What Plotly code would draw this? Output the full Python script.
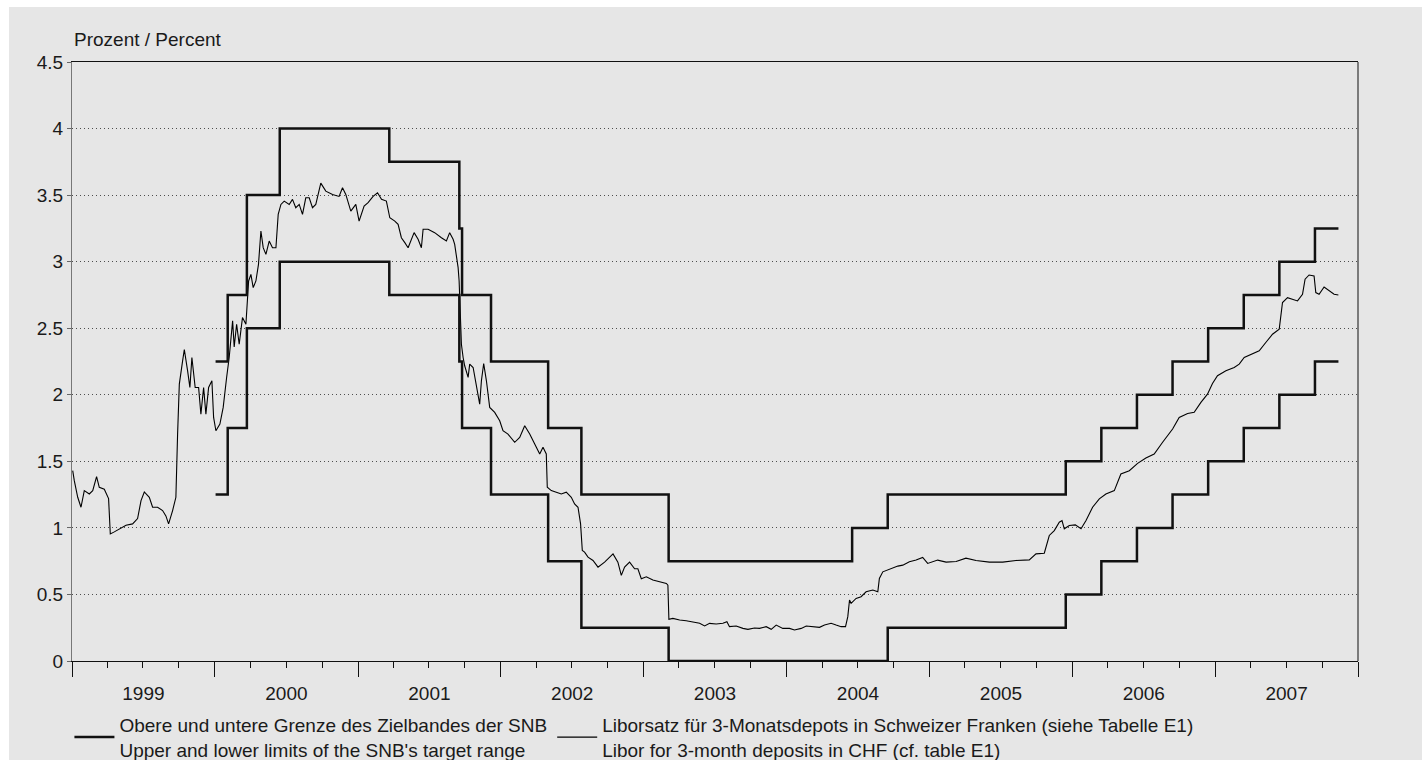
import pandas as pd
import plotly.graph_objects as go

# ---------------- data ----------------
# SNB target range (dates of changes, upper and lower limits, %)
band_dates = ['2000-01-03', '2000-02-03', '2000-03-23', '2000-06-15', '2001-03-22',
              '2001-09-17', '2001-09-24', '2001-12-07', '2002-05-02', '2002-07-26',
              '2003-03-06', '2004-06-17', '2004-09-16', '2005-12-15', '2006-03-16',
              '2006-06-15', '2006-09-14', '2006-12-14', '2007-03-15', '2007-06-14',
              '2007-09-13', '2007-11-12']
band_upper = [2.25, 2.75, 3.5, 4.0, 3.75, 3.25, 2.75, 2.25, 1.75, 1.25,
              0.75, 1.0, 1.25, 1.5, 1.75, 2.0, 2.25, 2.5, 2.75, 3.0, 3.25, 3.25]
band_lower = [1.25, 1.75, 2.5, 3.0, 2.75, 2.25, 1.75, 1.25, 0.75, 0.25,
              0.0, 0.0, 0.25, 0.5, 0.75, 1.0, 1.25, 1.5, 1.75, 2.0, 2.25, 2.25]

# 3-month CHF Libor (time in decimal years, value in %)
libor_time = [
    1999.005, 1999.016, 1999.040, 1999.063, 1999.086, 1999.121, 1999.145, 1999.172,
    1999.191, 1999.226, 1999.256, 1999.268, 1999.296, 1999.331, 1999.378, 1999.424,
    1999.459, 1999.483, 1999.506, 1999.541, 1999.564, 1999.599, 1999.634, 1999.657,
    1999.676, 1999.704, 1999.727, 1999.739, 1999.751, 1999.774, 1999.786, 1999.809,
    1999.825, 1999.839, 1999.862, 1999.886, 1999.902, 1999.921, 1999.937, 1999.956,
    1999.979, 1999.991, 2000.007, 2000.035, 2000.058, 2000.082, 2000.100, 2000.124,
    2000.135, 2000.152, 2000.170, 2000.193, 2000.217, 2000.236, 2000.252, 2000.268,
    2000.287, 2000.305, 2000.322, 2000.338, 2000.357, 2000.380, 2000.403, 2000.427,
    2000.443, 2000.462, 2000.485, 2000.520, 2000.543, 2000.566, 2000.590, 2000.613,
    2000.636, 2000.660, 2000.683, 2000.706, 2000.741, 2000.776, 2000.823, 2000.869,
    2000.893, 2000.916, 2000.951, 2000.986, 2001.009, 2001.044, 2001.072, 2001.107,
    2001.138, 2001.166, 2001.200, 2001.224, 2001.259, 2001.282, 2001.305, 2001.329,
    2001.352, 2001.394, 2001.422, 2001.445, 2001.457, 2001.492, 2001.538, 2001.585,
    2001.620, 2001.643, 2001.667, 2001.678, 2001.690, 2001.702, 2001.709, 2001.716,
    2001.720, 2001.725, 2001.737, 2001.748, 2001.772, 2001.783, 2001.807, 2001.830,
    2001.853, 2001.865, 2001.881, 2001.900, 2001.923, 2001.958, 2001.993, 2002.016,
    2002.051, 2002.098, 2002.133, 2002.168, 2002.203, 2002.238, 2002.273, 2002.296,
    2002.319, 2002.326, 2002.354, 2002.389, 2002.424, 2002.459, 2002.494, 2002.517,
    2002.541, 2002.559, 2002.571, 2002.587, 2002.611, 2002.646, 2002.681, 2002.727,
    2002.786, 2002.820, 2002.844, 2002.867, 2002.902, 2002.937, 2002.960, 2002.984,
    2003.007, 2003.019, 2003.065, 2003.112, 2003.159, 2003.170, 2003.177, 2003.205,
    2003.252, 2003.298, 2003.345, 2003.392, 2003.427, 2003.462, 2003.508, 2003.555,
    2003.583, 2003.601, 2003.648, 2003.695, 2003.730, 2003.776, 2003.811, 2003.858,
    2003.893, 2003.928, 2003.974, 2004.021, 2004.056, 2004.103, 2004.138, 2004.184,
    2004.231, 2004.266, 2004.312, 2004.347, 2004.382, 2004.413, 2004.429, 2004.441,
    2004.452, 2004.487, 2004.522, 2004.557, 2004.604, 2004.639, 2004.650, 2004.674,
    2004.709, 2004.744, 2004.779, 2004.814, 2004.860, 2004.907, 2004.953, 2004.988,
    2005.023, 2005.058, 2005.117, 2005.187, 2005.256, 2005.326, 2005.420, 2005.513,
    2005.606, 2005.699, 2005.746, 2005.804, 2005.839, 2005.874, 2005.909, 2005.928,
    2005.944, 2005.979, 2006.021, 2006.061, 2006.096, 2006.142, 2006.189, 2006.235,
    2006.294, 2006.340, 2006.399, 2006.457, 2006.515, 2006.573, 2006.632, 2006.702,
    2006.748, 2006.807, 2006.853, 2006.900, 2006.946, 2006.981, 2007.016, 2007.075,
    2007.133, 2007.168, 2007.203, 2007.261, 2007.308, 2007.354, 2007.401, 2007.448,
    2007.471, 2007.506, 2007.541, 2007.576, 2007.611, 2007.629, 2007.657, 2007.692,
    2007.704, 2007.727, 2007.762, 2007.797, 2007.832, 2007.862]
libor_value = [
    1.43, 1.355, 1.23, 1.155, 1.28, 1.255, 1.28, 1.385,
    1.305, 1.29, 1.22, 0.955, 0.97, 0.99, 1.02, 1.03,
    1.07, 1.205, 1.27, 1.23, 1.155, 1.155, 1.13, 1.09,
    1.03, 1.13, 1.23, 1.705, 2.08, 2.255, 2.34, 2.18,
    2.055, 2.28, 2.055, 2.055, 1.855, 2.055, 1.855, 2.055,
    2.105, 1.83, 1.73, 1.78, 1.905, 2.13, 2.28, 2.555,
    2.36, 2.53, 2.38, 2.58, 2.53, 2.855, 2.905, 2.805,
    2.855, 2.98, 3.23, 3.105, 3.055, 3.155, 3.105, 3.105,
    3.355, 3.43, 3.455, 3.43, 3.468, 3.405, 3.43, 3.355,
    3.48, 3.48, 3.405, 3.43, 3.59, 3.53, 3.505, 3.49,
    3.555, 3.505, 3.38, 3.43, 3.305, 3.418, 3.443, 3.49,
    3.518, 3.468, 3.455, 3.33, 3.305, 3.28, 3.18, 3.143,
    3.105, 3.218, 3.168, 3.105, 3.243, 3.243, 3.218, 3.18,
    3.155, 3.218, 3.168, 3.13, 3.055, 2.955, 2.855, 2.655,
    2.505, 2.38, 2.28, 2.218, 2.13, 2.23, 2.205, 2.055,
    1.93, 2.105, 2.235, 2.105, 1.905, 1.868, 1.805, 1.73,
    1.705, 1.643, 1.68, 1.768, 1.705, 1.63, 1.555, 1.605,
    1.555, 1.305, 1.28, 1.268, 1.255, 1.268, 1.23, 1.18,
    1.155, 1.03, 0.83, 0.818, 0.78, 0.755, 0.705, 0.743,
    0.805, 0.743, 0.643, 0.705, 0.743, 0.693, 0.693, 0.618,
    0.63, 0.633, 0.608, 0.595, 0.583, 0.57, 0.313, 0.32,
    0.308, 0.303, 0.295, 0.283, 0.263, 0.283, 0.278, 0.283,
    0.295, 0.258, 0.263, 0.245, 0.238, 0.248, 0.245, 0.258,
    0.238, 0.27, 0.245, 0.245, 0.233, 0.245, 0.263, 0.258,
    0.253, 0.27, 0.283, 0.27, 0.258, 0.258, 0.333, 0.458,
    0.433, 0.47, 0.483, 0.52, 0.533, 0.52, 0.62, 0.67,
    0.683, 0.695, 0.713, 0.72, 0.745, 0.758, 0.778, 0.733,
    0.745, 0.758, 0.743, 0.748, 0.773, 0.755, 0.743, 0.743,
    0.755, 0.76, 0.805, 0.81, 0.943, 0.98, 1.043, 1.055,
    0.993, 1.018, 1.023, 0.993, 1.055, 1.155, 1.218, 1.255,
    1.28, 1.405, 1.43, 1.485, 1.525, 1.555, 1.643, 1.743,
    1.83, 1.86, 1.868, 1.943, 2.005, 2.085, 2.143, 2.18,
    2.205, 2.23, 2.28, 2.305, 2.33, 2.393, 2.455, 2.493,
    2.693, 2.73, 2.718, 2.705, 2.755, 2.868, 2.9, 2.893,
    2.768, 2.755, 2.81, 2.78, 2.755, 2.75]

y_ticks = [0, 0.5, 1, 1.5, 2, 2.5, 3, 3.5, 4, 4.5]
y_title = "Prozent / Percent"
name_band = "Obere und untere Grenze des Zielbandes der SNB<br>Upper and lower limits of the SNB's target range"
name_libor = "Liborsatz für 3-Monatsdepots in Schweizer Franken (siehe Tabelle E1)<br>Libor for 3-month deposits in CHF (cf. table E1)"

# convert decimal years to dates
base = pd.Timestamp("1999-01-01")
libor_dates = [base + pd.Timedelta(days=(t - 1999) * 365.25) for t in libor_time]

FONT = "Liberation Sans, Arial, sans-serif"
BG = "#e6e6e6"
W, H = 1426, 760
ML, MR, MT, MB = 72, 68, 62, 99
PW, PH = W - ML - MR, H - MT - MB

fig = go.Figure()
fig.add_trace(go.Scatter(x=libor_dates, y=libor_value, mode="lines",
                         line=dict(color="#000000", width=1.1), name=name_libor,
                         legendrank=2))
fig.add_trace(go.Scatter(x=band_dates, y=band_upper, mode="lines",
                         line=dict(color="#111111", width=2.5, shape="hv"),
                         name=name_band, legendgroup="band", legendrank=1))
fig.add_trace(go.Scatter(x=band_dates, y=band_lower, mode="lines",
                         line=dict(color="#111111", width=2.5, shape="hv"),
                         name=name_band, legendgroup="band", showlegend=False))

fig.update_layout(
    width=W, height=H,
    margin=dict(l=ML, r=MR, t=MT, b=MB, autoexpand=False),
    paper_bgcolor="white",
    plot_bgcolor="rgba(0,0,0,0)",
    font=dict(family=FONT, size=19, color="#1a1a1a"),
    showlegend=True,
    legend=dict(orientation="h", x=-0.002, xanchor="left", y=-0.075, yanchor="top",
                bgcolor="rgba(0,0,0,0)", font=dict(size=19),
                itemwidth=40, traceorder="normal", tracegroupgap=0),
    xaxis=dict(type="date", range=["1999-01-01", "2008-01-01"],
               tick0="1999-01-01", dtick="M12", tickformat="%Y",
               ticklabelmode="period", ticks="outside", ticklen=15,
               tickcolor="#111111", tickwidth=1,
               minor=dict(dtick="M3", ticks="outside", ticklen=6,
                          tickcolor="#111111", tickwidth=1, showgrid=False),
               showgrid=False, showline=True, linecolor="#111111", linewidth=1,
               mirror=True, zeroline=False, fixedrange=True),
    yaxis=dict(range=[0, 4.5], tickvals=y_ticks, ticks="outside", ticklen=4,
               tickcolor="#666666", showline=True, linecolor="#777777",
               linewidth=1, showgrid=True, gridcolor="#4d4d4d", gridwidth=1,
               griddash="1px,3px", zeroline=False, fixedrange=True),
)

# grey card background
fig.add_shape(type="rect", xref="paper", yref="paper",
              x0=(9 - ML) / PW, x1=(1422 - ML) / PW,
              y0=(MT + PH - H) / PH, y1=(MT + PH - 7) / PH,
              fillcolor=BG, line=dict(width=0), layer="below")
# right frame line
fig.add_shape(type="line", xref="paper", yref="paper", x0=1, x1=1, y0=0, y1=1,
              line=dict(color="#111111", width=1))

fig.add_annotation(text=y_title, xref="paper", yref="paper", x=0, y=1,
                   xanchor="left", yanchor="bottom", yshift=10, showarrow=False,
                   font=dict(size=19))

fig.write_html("out.html", config={"displayModeBar": False},
               post_script="document.body.style.margin='0';document.body.style.overflow='hidden';")
